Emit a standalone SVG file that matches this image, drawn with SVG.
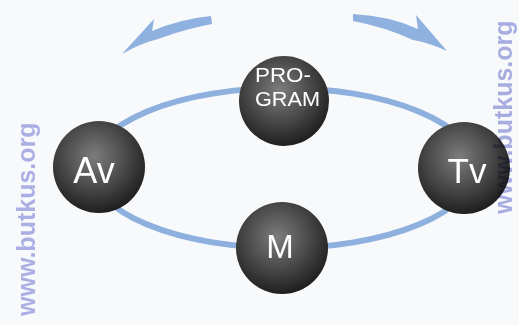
<svg xmlns="http://www.w3.org/2000/svg" width="519" height="325" viewBox="0 0 519 325">
<defs>
<radialGradient id="sph" cx="0.45" cy="0.38" r="0.62">
<stop offset="0" stop-color="#7c7c7c"/>
<stop offset="0.55" stop-color="#4a4a4a"/>
<stop offset="1" stop-color="#1f1f1f"/>
</radialGradient>
<style>
.ring{fill:none;stroke:#8db0de;stroke-width:6}
.arrow{fill:#8fb1e0}
.ball{fill:url(#sph)}
.lbl{fill:#ffffff;font-family:"Liberation Sans",Arial,sans-serif}
.wm{fill:#9fa3e0;font-family:"Liberation Sans",Arial,sans-serif;font-weight:bold;font-size:25px;opacity:0.85}
</style>
</defs>
<rect width="519" height="325" fill="#f8f9fb"/>
<g id="connectors">
<ellipse class="ring" cx="283" cy="168" rx="192" ry="80"/>
<path class="arrow" d="M211,16 Q180,19 152,31 L154,19 L122,54 Q139,44 158,39 Q185,29 212,24 Z"/>
<path class="arrow" d="M353,14 Q390,16 418,29 L416,15 L447,51 Q430,43 413,40 Q385,27 353,21 Z"/>
</g>
<text class="wm" transform="translate(35,316) rotate(-90)">www.butkus.org</text>
<g id="node-program">
<circle class="ball" cx="284" cy="101" r="45"/>
<text class="lbl" x="255" y="82" font-size="21" textLength="56" lengthAdjust="spacingAndGlyphs">PRO-</text>
<text class="lbl" x="255" y="106" font-size="21" textLength="65" lengthAdjust="spacingAndGlyphs">GRAM</text>
</g>
<g id="node-av">
<circle class="ball" cx="99" cy="167" r="46"/>
<text class="lbl" x="94" y="183" font-size="36" text-anchor="middle">Av</text>
</g>
<g id="node-tv">
<circle class="ball" cx="464" cy="168" r="46"/>
<text class="lbl" x="467" y="183" font-size="35" text-anchor="middle">Tv</text>
</g>
<g id="node-m">
<circle class="ball" cx="282" cy="248" r="46"/>
<text class="lbl" x="280" y="258" font-size="33" text-anchor="middle">M</text>
</g>
<text class="wm" transform="translate(512,214) rotate(-90)" style="mix-blend-mode:multiply">www.butkus.org</text>
</svg>
